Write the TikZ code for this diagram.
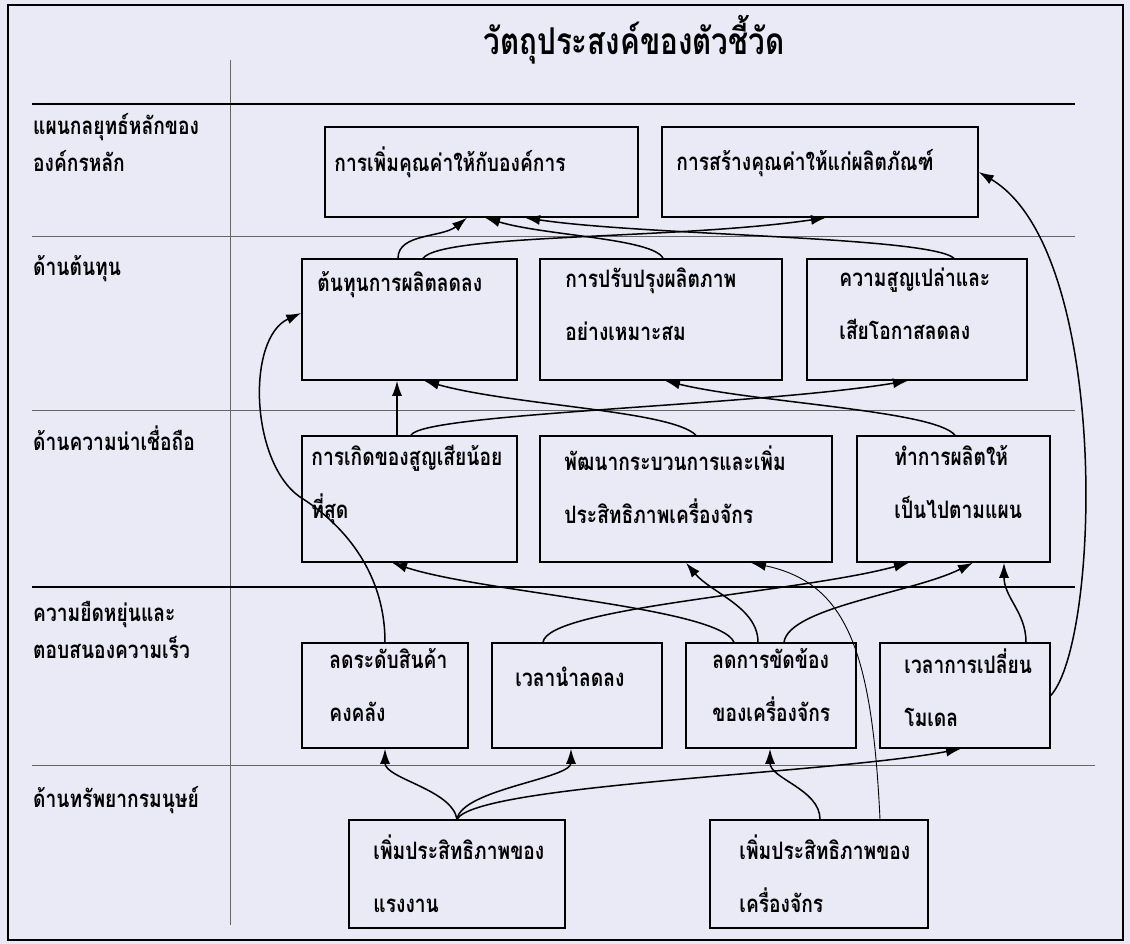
\documentclass[tikz,border=0pt]{standalone}
\usepackage{fontspec}
\newfontfamily\thaifont[Script=Thai,FakeStretch=0.8]{Loma}
\usetikzlibrary{arrows.meta,positioning}
\definecolor{pBack}{RGB}{234,234,246}
\definecolor{pGray}{gray}{0.4}
\tikzset{
    box/.style={draw, line width=1.5pt, inner sep=0pt},
    txt/.style={inner sep=0pt, align=left, anchor=north west,
        font=\thaifont\bfseries\fontsize{24}{53}\selectfont,
        execute at begin node=\rule{0pt}{24pt}},
    lbl/.style={inner sep=0pt, align=left, anchor=north west,
        font=\thaifont\bfseries\fontsize{24}{37}\selectfont,
        execute at begin node=\rule{0pt}{24pt}},
    sect/.style={line width=1pt, pGray},
    conn/.style={line width=1.5pt, -{Latex[length=15pt,width=10pt]}}
}

\begin{document}
\begin{tikzpicture}[x=1pt,y=-1pt]
\useasboundingbox (0,0) rectangle (1130,944);
\fill[pBack] (0,0) rectangle (1130,944);
\draw[line width=1.5pt] (8,5) rectangle (1123,940);

\node[font=\thaifont\bfseries\fontsize{37}{44}\selectfont] (title) at (634,40) {วัตถุประสงค์ของตัวชี้วัด};
\draw[sect] (230,60) -- (230,925);
\draw[line width=1.2pt] (32,104) -- (1075,104);
\draw[sect] (32,237) -- (1075,237);
\draw[sect] (32,410) -- (1075,410);
\draw[line width=1.6pt] (32,587) -- (1075,587);
\draw[sect] (32,765) -- (1095,765);

\node[lbl] (L1) at (33,113) {แผนกลยุทธ์หลักของ\\องค์กรหลัก};
\node[lbl] (L2) at (33,251) {ด้านต้นทุน};
\node[lbl] (L3) at (33,426) {ด้านความน่าเชื่อถือ};
\node[lbl] (L4) at (33,601) {ความยืดหยุ่นและ\\ตอบสนองความเร็ว};
\node[lbl] (L5) at (33,783) {ด้านทรัพยากรมนุษย์};

\node[box, minimum width=313pt, minimum height=90pt] (A1) at (481.5,172) {};
\node[box, minimum width=316pt, minimum height=90pt] (A2) at (820,172) {};
\node[txt, below right=20pt and 10pt of A1.north west] (A1t) {การเพิ่มคุณค่าให้กับองค์การ};
\node[txt, below right=20pt and 15pt of A2.north west] (A2t) {การสร้างคุณค่าให้แก่ผลิตภัณฑ์};

\node[box, minimum width=215pt, minimum height=121pt] (B1) at (409.5,319.5) {};
\node[box, minimum width=242pt, minimum height=121pt] (B2) at (661,319.5) {};
\node[box, minimum width=220pt, minimum height=121pt] (B3) at (917,319.5) {};
\node[txt, below right=9pt and 16pt of B1.north west] (B1t) {ต้นทุนการผลิตลดลง};
\node[txt, below right=9pt and 26pt of B2.north west] (B2t) {การปรับปรุงผลิตภาพ\\อย่างเหมาะสม};
\node[txt, below right=9pt and 33pt of B3.north west] (B3t) {ความสูญเปล่าและ\\เสียโอกาสลดลง};

\node[box, minimum width=215pt, minimum height=126pt] (C1) at (409.5,499) {};
\node[box, minimum width=292pt, minimum height=126pt] (C2) at (686,499) {};
\node[box, minimum width=193pt, minimum height=126pt] (C3) at (953.5,499) {};
\node[txt, below right=10pt and 10pt of C1.north west] (C1t) {การเกิดของสูญเสียน้อย\\ที่สุด};
\node[txt, below right=10pt and 25pt of C2.north west] (C2t) {พัฒนากระบวนการและเพิ่ม\\ประสิทธิภาพเครื่องจักร};
\node[txt, below right=10pt and 38pt of C3.north west] (C3t) {ทำการผลิตให้\\เป็นไปตามแผน};

\node[box, minimum width=166pt, minimum height=105pt] (D1) at (385,695.5) {};
\node[box, minimum width=170pt, minimum height=105pt] (D2) at (577,695.5) {};
\node[box, minimum width=170pt, minimum height=105pt] (D3) at (771,695.5) {};
\node[box, minimum width=170pt, minimum height=105pt] (D4) at (965,695.5) {};
\node[txt, below right=6pt and 28pt of D1.north west] (D1t) {ลดระดับสินค้า\\คงคลัง};
\node[txt, below right=20pt and 24pt of D2.north west] (D2t) {เวลานำลดลง};
\node[txt, below right=6pt and 27pt of D3.north west] (D3t) {ลดการขัดข้อง\\ของเครื่องจักร};
\node[txt, below right=6pt and 25pt of D4.north west] (D4t) {เวลาการเปลี่ยน\\โมเดล};

\node[box, minimum width=216pt, minimum height=108pt] (E1) at (457,874) {};
\node[box, minimum width=218pt, minimum height=108pt] (E2) at (819,874) {};
\node[txt, below right=15pt and 25pt of E1.north west] (E1t) {เพิ่มประสิทธิภาพของ\\แรงงาน};
\node[txt, below right=15pt and 30pt of E2.north west] (E2t) {เพิ่มประสิทธิภาพของ\\เครื่องจักร};

\coordinate (bend) at (300,497);

\draw[conn] ([xshift=-11.5pt]B1.north) .. controls +(0,-25) and +(-25,20) .. ([xshift=-14.5pt]A1.south);
\draw[conn] ([xshift=13.5pt]B1.north) .. controls +(20,-25) and +(-150,22) .. ([xshift=6pt]A2.south);
\draw[conn] ([xshift=2pt]B2.north) .. controls +(-10,-20) and +(60,18) .. ([xshift=3.5pt]A1.south);
\draw[conn] ([xshift=37pt]B3.north) .. controls +(-25,-22) and +(120,18) .. ([xshift=43.5pt]A1.south);

\draw[conn] ([xshift=-12.5pt]C1.north) -- ([xshift=-12.5pt]B1.south);
\draw[conn] ([xshift=1.5pt]C1.north) .. controls +(10,-22) and +(-150,25) .. ([xshift=-9pt]B3.south);
\draw[conn] ([xshift=10pt]C2.north) .. controls +(-25,-25) and +(90,25) .. ([xshift=14.5pt]B1.south);
\draw[conn] ([xshift=1.5pt]C3.north) .. controls +(-20,-25) and +(90,22) .. ([xshift=4pt]B2.south);

\draw[conn] (D1.north) .. controls +(0,-73) and +(40,25) .. (bend)
    .. controls +(-50,-35) and +(-55,25) .. ([yshift=6.5pt]B1.west);
\draw[conn] ([xshift=-34pt]D2.north) .. controls +(5,-35) and +(-110,30) .. ([xshift=-44.5pt]C3.south);
\draw[conn] ([xshift=-37pt]D3.north) .. controls +(-15,-35) and +(90,30) .. ([xshift=-17.5pt]C1.south);
\draw[conn] ([xshift=-13pt]D3.north) .. controls +(0,-35) and +(25,30) .. (C2.south);
\draw[conn] ([xshift=13pt]D3.north) .. controls +(5,-35) and +(-60,30) .. ([xshift=19.5pt]C3.south);
\draw[conn] ([xshift=61pt]D4.north) .. controls +(0,-30) and +(0,35) .. ([xshift=50.5pt]C3.south);
\draw[conn] (D4.east) .. controls +(50,-55) and +(132,78) .. (A2.east);
\draw[conn,line width=0.9pt] ([xshift=61pt]E2.north) .. controls +(-8,-170) and +(95,20) .. ([xshift=65pt]C2.south);

\draw[conn] (E1.north) .. controls +(-5,-30) and +(0,30) .. (D1.south);
\draw[conn] (E1.north) .. controls +(5,-30) and +(0,30) .. ([xshift=-6pt]D2.south);
\draw[conn] (E1.north) .. controls +(20,-35) and +(-130,25) .. ([xshift=-4pt]D4.south);
\draw[conn] ([xshift=1pt]E2.north) .. controls +(0,-30) and +(0,30) .. ([xshift=-1pt]D3.south);
\end{tikzpicture}
\end{document}
